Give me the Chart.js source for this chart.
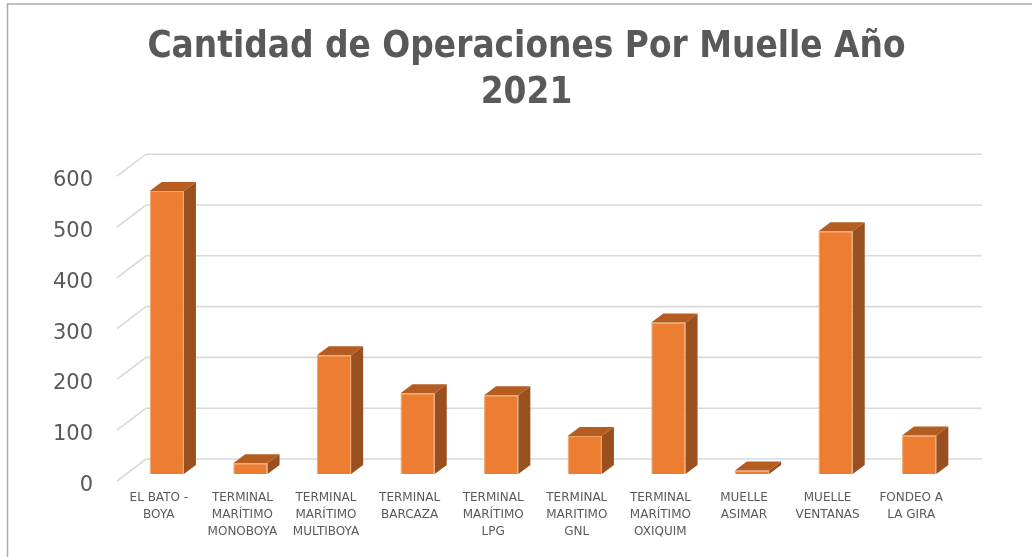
<!DOCTYPE html>
<html>
<head>
<meta charset="utf-8">
<script src="https://cdn.jsdelivr.net/npm/chart.js@4/dist/chart.umd.min.js"></script>
<style>
  html, body { margin: 0; padding: 0; background: #ffffff; }
  #wrap { width: 1032px; height: 557px; position: relative; }
</style>
</head>
<body>
<div id="wrap"><canvas id="chart" width="1032" height="557"></canvas></div>
<script>
// Operaciones por muelle, año 2021
const muelles = [
  ['EL BATO -', 'BOYA'],
  ['TERMINAL', 'MARÍTIMO', 'MONOBOYA'],
  ['TERMINAL', 'MARÍTIMO', 'MULTIBOYA'],
  ['TERMINAL', 'BARCAZA'],
  ['TERMINAL', 'MARÍTIMO', 'LPG'],
  ['TERMINAL', 'MARITIMO', 'GNL'],
  ['TERMINAL', 'MARÍTIMO', 'OXIQUIM'],
  ['MUELLE', 'ASIMAR'],
  ['MUELLE', 'VENTANAS'],
  ['FONDEO A', 'LA GIRA']
];
const operaciones = [557, 21, 234, 159, 155, 75, 298, 7, 478, 76];
const yTicks = [0, 100, 200, 300, 400, 500, 600];
const titleLines = ['Cantidad de Operaciones Por Muelle Año', '2021'];

// Oblique projection offsets relative to the bar plane
const FRONT = { dx: -8, dy: 7 };   // front edge of the floor
const BACK = { dx: 21, dy: -15 };  // back wall
const DEPTH = { dx: 12, dy: -9 };  // bar depth

const frame3d = {
  id: 'frame3d',
  beforeDraw(chart) {
    const { ctx, width, height } = chart;
    ctx.save();
    ctx.fillStyle = '#ffffff';
    ctx.fillRect(0, 0, width, height);
    ctx.strokeStyle = '#ABABAB';
    ctx.lineWidth = 1.5;
    ctx.beginPath();
    ctx.moveTo(7.5, height);
    ctx.lineTo(7.5, 4);
    ctx.lineTo(width, 4);
    ctx.stroke();
    ctx.restore();
  },
  beforeDatasetsDraw(chart) {
    const { ctx, chartArea, scales } = chart;
    const y = scales.y;
    ctx.save();
    ctx.strokeStyle = '#D9D9D9';
    ctx.lineWidth = 1.6;
    y.ticks.forEach(t => {
      const py = y.getPixelForValue(t.value);
      ctx.beginPath();
      ctx.moveTo(chartArea.left + FRONT.dx, py + FRONT.dy);
      ctx.lineTo(chartArea.left + BACK.dx, py + BACK.dy);
      ctx.lineTo(chartArea.right + BACK.dx, py + BACK.dy);
      ctx.stroke();
    });
    ctx.restore();
  },
  afterDatasetsDraw(chart) {
    const { ctx } = chart;
    const meta = chart.getDatasetMeta(0);
    ctx.save();
    meta.data.forEach(bar => {
      const { x, y, base, width } = bar.getProps(['x', 'y', 'base', 'width'], true);
      const l = x - width / 2, r = x + width / 2;
      // side face
      ctx.fillStyle = '#9A4F1E';
      ctx.beginPath();
      ctx.moveTo(r, y);
      ctx.lineTo(r + DEPTH.dx, y + DEPTH.dy);
      ctx.lineTo(r + DEPTH.dx, base + DEPTH.dy);
      ctx.lineTo(r, base);
      ctx.closePath();
      ctx.fill();
      // top face
      ctx.fillStyle = '#B55C21';
      ctx.beginPath();
      ctx.moveTo(l, y);
      ctx.lineTo(l + DEPTH.dx, y + DEPTH.dy);
      ctx.lineTo(r + DEPTH.dx, y + DEPTH.dy);
      ctx.lineTo(r, y);
      ctx.closePath();
      ctx.fill();
    });
    ctx.restore();
  },
  afterDraw(chart) {
    // two-line title centred over the plot including its back wall
    const { ctx, chartArea } = chart;
    const cx = (chartArea.left + FRONT.dx + chartArea.right + BACK.dx) / 2 - 23;
    ctx.save();
    ctx.fillStyle = '#595959';
    ctx.font = 'bold 36.6px "DejaVu Sans Condensed", "DejaVu Sans"';
    ctx.textAlign = 'center';
    ctx.textBaseline = 'middle';
    titleLines.forEach((line, i) => ctx.fillText(line, cx, 47.5 + i * 46));
    ctx.restore();
  }
};

new Chart(document.getElementById('chart'), {
  type: 'bar',
  data: {
    labels: muelles,
    datasets: [{
      data: operaciones,
      backgroundColor: '#ED7D31',
      borderColor: '#F2A46E',
      borderWidth: 1,
      categoryPercentage: 1,
      barPercentage: 0.41
    }]
  },
  options: {
    responsive: false,
    animation: false,
    devicePixelRatio: 1,
    layout: { padding: { top: 169.2, right: 71, bottom: 0, left: 0 } },
    plugins: {
      legend: { display: false },
      tooltip: { enabled: false },
      title: { display: false }
    },
    scales: {
      x: {
        grid: { display: false, drawTicks: false },
        border: { display: false },
        afterFit(s) { s.height = 83; },
        ticks: {
          autoSkip: false,
          maxRotation: 0,
          minRotation: 0,
          labelOffset: -8,
          padding: 16,
          color: '#595959',
          font: { family: 'DejaVu Sans', size: 12, lineHeight: 1.38 }
        }
      },
      y: {
        min: 0,
        max: 600,
        afterFit(s) { s.width = 125; },
        afterBuildTicks(s) { s.ticks = yTicks.map(v => ({ value: v })); },
        grid: { display: false, drawTicks: false },
        border: { display: false },
        ticks: {
          padding: 32,
          labelOffset: 11.5,
          color: '#595959',
          font: { family: 'DejaVu Sans', size: 21 }
        }
      }
    }
  },
  plugins: [frame3d]
});
</script>
</body>
</html>
